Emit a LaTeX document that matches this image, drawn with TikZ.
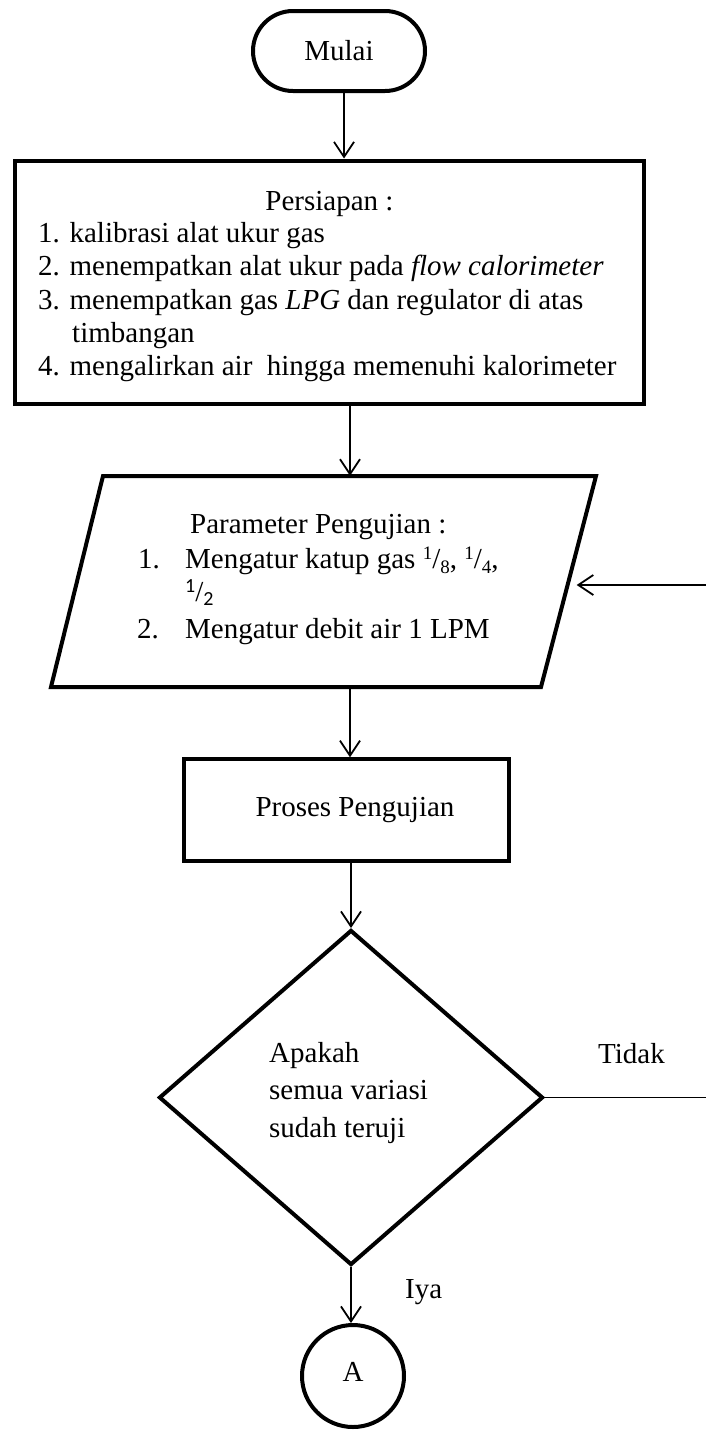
\documentclass[tikz,border=0pt]{standalone}
\usepackage{fontspec}
\setmainfont{Liberation Serif}
\newfontfamily\calfont{Carlito}
\usetikzlibrary{arrows.meta,shapes.geometric}
\newcommand{\frc}[2]{\raisebox{9pt}{\fontsize{19}{19}\selectfont #1}/\raisebox{-5pt}{\fontsize{19}{19}\selectfont #2}}
\newcommand{\frcc}[2]{\raisebox{9pt}{\calfont\fontsize{20}{20}\selectfont #1}/\raisebox{-4pt}{\calfont\fontsize{20}{20}\selectfont #2}}
\begin{document}
\begin{tikzpicture}[x=1pt,y=-1pt,
  shapeline/.style={draw, line width=4pt, inner sep=0pt, font=\fontsize{29}{33}\selectfont},
  arr/.style={line width=1.8pt, -{Straight Barb[length=15pt,width=20pt]}},
  plainline/.style={line width=1.5pt},
  txt/.style={inner sep=0pt, anchor=base west, font=\fontsize{29}{33}\selectfont},
  ctxt/.style={txt, anchor=base}
]
\useasboundingbox (0,0) rectangle (706,1430);

% shapes
\node[shapeline, rectangle, rounded corners=40pt, minimum width=172pt, minimum height=80pt] (mulai) at (339,51) {Mulai};
\node[shapeline, rectangle, minimum width=629pt, minimum height=243pt] (prep) at (329.5,282) {};
\node[rectangle, inner sep=0pt, minimum width=491.5pt, minimum height=211pt] (par) at (322.75,581.5) {};
\draw[line width=4pt] (103,476) -- (596,476) -- (541,687) -- (51,687) -- cycle;
\node[shapeline, rectangle, minimum width=325pt, minimum height=101.5pt] (proc) at (346,810) {\hspace*{18pt}Proses Pengujian};
\node[shapeline, diamond, minimum width=384pt, minimum height=335pt] (dec) at (351,1097.5) {};
\node[shapeline, circle, minimum size=102pt, text height=19pt, text depth=8pt] (circ) at (353,1376) {A};

% texts
\node[ctxt] (t0) at (329.5,210) {Persiapan :};
\node[txt] (t1) at (38,242) {1. kalibrasi alat ukur gas};
\node[txt] (t2) at (38,275) {2. menempatkan alat ukur pada \textit{flow calorimeter}};
\node[txt] (t3) at (38,309) {3. menempatkan gas \textit{LPG} dan regulator di atas};
\node[txt] (t3b) at (72,342) {timbangan};
\node[txt] (t4) at (38,375) {4. mengalirkan air~ hingga memenuhi kalorimeter};

\node[txt] (q0) at (190,533) {Parameter Pengujian :};
\node[txt] (q1) at (138,568) {\makebox[47pt][l]{1.}Mengatur katup gas \frc18, \frc14,};
\node[txt] (q1b) at (185,601) {\frcc12};
\node[txt] (q2) at (137,638) {\makebox[48pt][l]{2.}Mengatur debit air 1 LPM};

\node[txt] (d1) at (269,1062) {Apakah};
\node[txt] (d2) at (269,1099) {semua variasi};
\node[txt] (d3) at (269,1137) {sudah teruji};

\node[txt] (tidak) at (598,1063) {Tidak};
\node[txt] (iya) at (405,1298) {Iya};

% connectors
\coordinate (ax1) at (344,0);
\coordinate (ax2) at (350,0);
\coordinate (retin) at (706,585);
\coordinate (tout) at (706,1097.5);
\draw[arr] (mulai.south -| ax1) -- (prep.north -| ax1);
\draw[arr] (prep.south -| ax2) -- (par.north -| ax2);
\draw[arr] (par.south -| ax2) -- (proc.north -| ax2);
\draw[arr] (proc.south -| dec.north) -- (dec.north);
\draw[arr] (dec.south) -- (dec.south |- circ.north);
\draw[arr, shorten >=8pt] (retin) -- (retin -| par.east);
\draw[plainline] (dec.east) -- (tout);
\end{tikzpicture}
\end{document}
